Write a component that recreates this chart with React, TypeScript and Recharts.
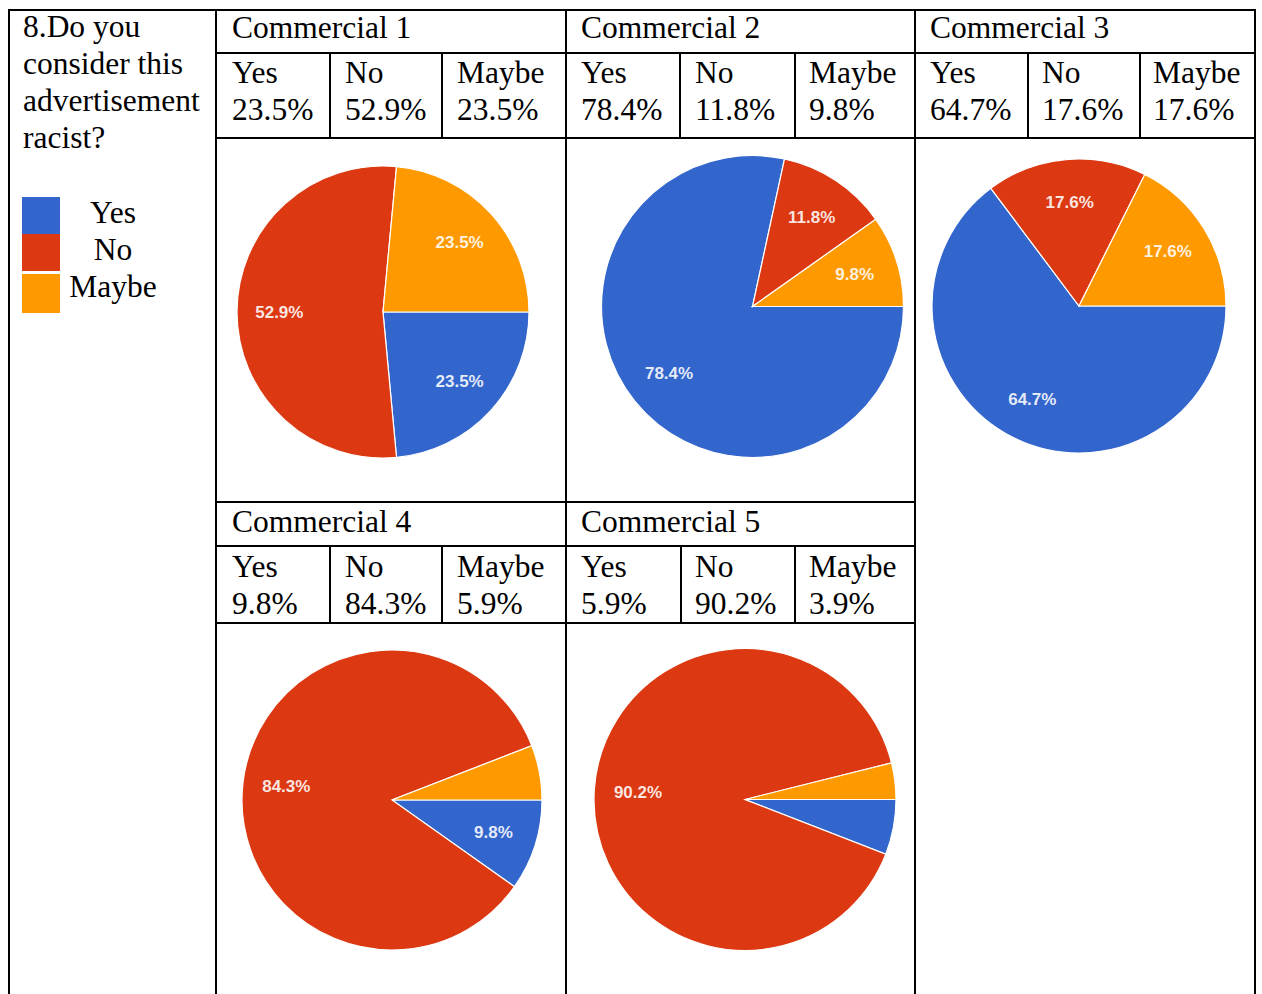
import React from 'react';
import { PieChart, Pie, Cell } from 'recharts';

const categories = ['Yes', 'No', 'Maybe'];
const commercials = ['Commercial 1', 'Commercial 2', 'Commercial 3', 'Commercial 4', 'Commercial 5'];
const yesValues = [23.5, 78.4, 64.7, 9.8, 5.9];
const noValues = [52.9, 11.8, 17.6, 84.3, 90.2];
const maybeValues = [23.5, 9.8, 17.6, 5.9, 3.9];
const colors = ['#3366CC', '#DC3912', '#FF9900'];
const question = ['8.Do you', 'consider this', 'advertisement', 'racist?'];

// layout (cell boxes and pie geometry, in page pixels)
const layout = [
  { left: 217, top: 139, w: 348, h: 362, cx: 166, cy: 173, r: 146, headTop: 9, valTop: 54, valLeft: [232, 345, 457] },
  { left: 566, top: 139, w: 348, h: 362, cx: 186.5, cy: 167.5, r: 151, headTop: 9, valTop: 54, valLeft: [581, 695, 809] },
  { left: 915, top: 139, w: 339, h: 362, cx: 164, cy: 167, r: 147, headTop: 9, valTop: 54, valLeft: [930, 1042, 1153] },
  { left: 217, top: 624, w: 348, h: 370, cx: 175, cy: 176, r: 150, headTop: 503, valTop: 548, valLeft: [232, 345, 457] },
  { left: 566, top: 624, w: 348, h: 370, cx: 179, cy: 175.5, r: 151, headTop: 503, valTop: 548, valLeft: [581, 695, 809] },
];

const RAD = Math.PI / 180;

const makeLabel = (r: number) => (props: any) => {
  const { cx, cy, midAngle, value, percent } = props;
  if (percent < 0.08) return null;
  const rr = r * 0.71;
  const x = cx + rr * Math.cos(-midAngle * RAD);
  const y = cy + rr * Math.sin(-midAngle * RAD);
  return (
    <text
      x={x}
      y={y}
      fill="#ffffff"
      fillOpacity={0.88}
      textAnchor="middle"
      dominantBaseline="central"
      style={{ fontFamily: "'Liberation Sans', Arial, sans-serif", fontSize: 17, fontWeight: 'bold' }}
    >
      {value.toFixed(1) + '%'}
    </text>
  );
};

const HLine = ({ x1, x2, y }: { x1: number; x2: number; y: number }) => (
  <div style={{ position: 'absolute', left: x1, top: y, width: x2 - x1, height: 2, background: '#000' }} />
);
const VLine = ({ x, y1, y2 }: { x: number; y1: number; y2: number }) => (
  <div style={{ position: 'absolute', left: x, top: y1, width: 2, height: y2 - y1, background: '#000' }} />
);

const textStyle: React.CSSProperties = {
  position: 'absolute',
  whiteSpace: 'nowrap',
  fontFamily: "'Liberation Serif', 'Times New Roman', serif",
  fontSize: 31.5,
  lineHeight: '37px',
  color: '#000',
};

export default function App() {
  const valuesFor = (i: number) => [yesValues[i], noValues[i], maybeValues[i]];
  return (
    <div style={{ position: 'absolute', left: 0, top: 0, width: 1262, height: 994, background: '#fff', overflow: 'hidden' }}>
      {/* grid lines */}
      <HLine x1={8} x2={1256} y={9} />
      <HLine x1={216} x2={1256} y={52} />
      <HLine x1={216} x2={1256} y={137} />
      <HLine x1={216} x2={916} y={501} />
      <HLine x1={216} x2={916} y={545} />
      <HLine x1={216} x2={916} y={622} />
      <VLine x={8} y1={9} y2={994} />
      <VLine x={215} y1={9} y2={994} />
      <VLine x={565} y1={9} y2={994} />
      <VLine x={914} y1={9} y2={994} />
      <VLine x={1254} y1={9} y2={994} />
      {[329, 441, 679, 794, 1027, 1139].map((x) => (
        <VLine key={'a' + x} x={x} y1={53} y2={138} />
      ))}
      {[329, 441, 680, 794].map((x) => (
        <VLine key={'b' + x} x={x} y1={546} y2={623} />
      ))}

      {/* question */}
      <div style={{ ...textStyle, left: 23, top: 8 }}>
        {question.map((q) => (
          <div key={q}>{q}</div>
        ))}
      </div>

      {/* legend */}
      {categories.map((c, i) => (
        <React.Fragment key={c}>
          <div
            style={{
              position: 'absolute',
              left: 22,
              top: [197, 234, 274][i],
              width: 38,
              height: [37, 37, 39][i],
              background: colors[i],
            }}
          />
          <div style={{ ...textStyle, left: 62, width: 102, textAlign: 'center', top: 194 + i * 37 }}>{c}</div>
        </React.Fragment>
      ))}

      {/* commercials */}
      {commercials.map((name, i) => {
        const L = layout[i];
        const vals = valuesFor(i);
        const data = categories.map((c, k) => ({ name: c, value: vals[k] }));
        return (
          <React.Fragment key={name}>
            <div style={{ ...textStyle, left: L.valLeft[0], top: L.headTop }}>{name}</div>
            {categories.map((c, k) => (
              <div key={c} style={{ ...textStyle, left: L.valLeft[k], top: L.valTop }}>
                <div>{c}</div>
                <div>{vals[k].toFixed(1) + '%'}</div>
              </div>
            ))}
            <div style={{ position: 'absolute', left: L.left, top: L.top }}>
              <PieChart width={L.w} height={L.h} margin={{ top: 0, right: 0, bottom: 0, left: 0 }}>
                <Pie
                  data={data}
                  dataKey="value"
                  nameKey="name"
                  cx={L.cx}
                  cy={L.cy}
                  outerRadius={L.r}
                  innerRadius={0}
                  startAngle={0}
                  endAngle={-360}
                  stroke="#ffffff"
                  strokeWidth={1.2}
                  label={makeLabel(L.r)}
                  labelLine={false}
                  isAnimationActive={false}
                >
                  {data.map((d, k) => (
                    <Cell key={d.name} fill={colors[k]} />
                  ))}
                </Pie>
              </PieChart>
            </div>
          </React.Fragment>
        );
      })}
    </div>
  );
}
